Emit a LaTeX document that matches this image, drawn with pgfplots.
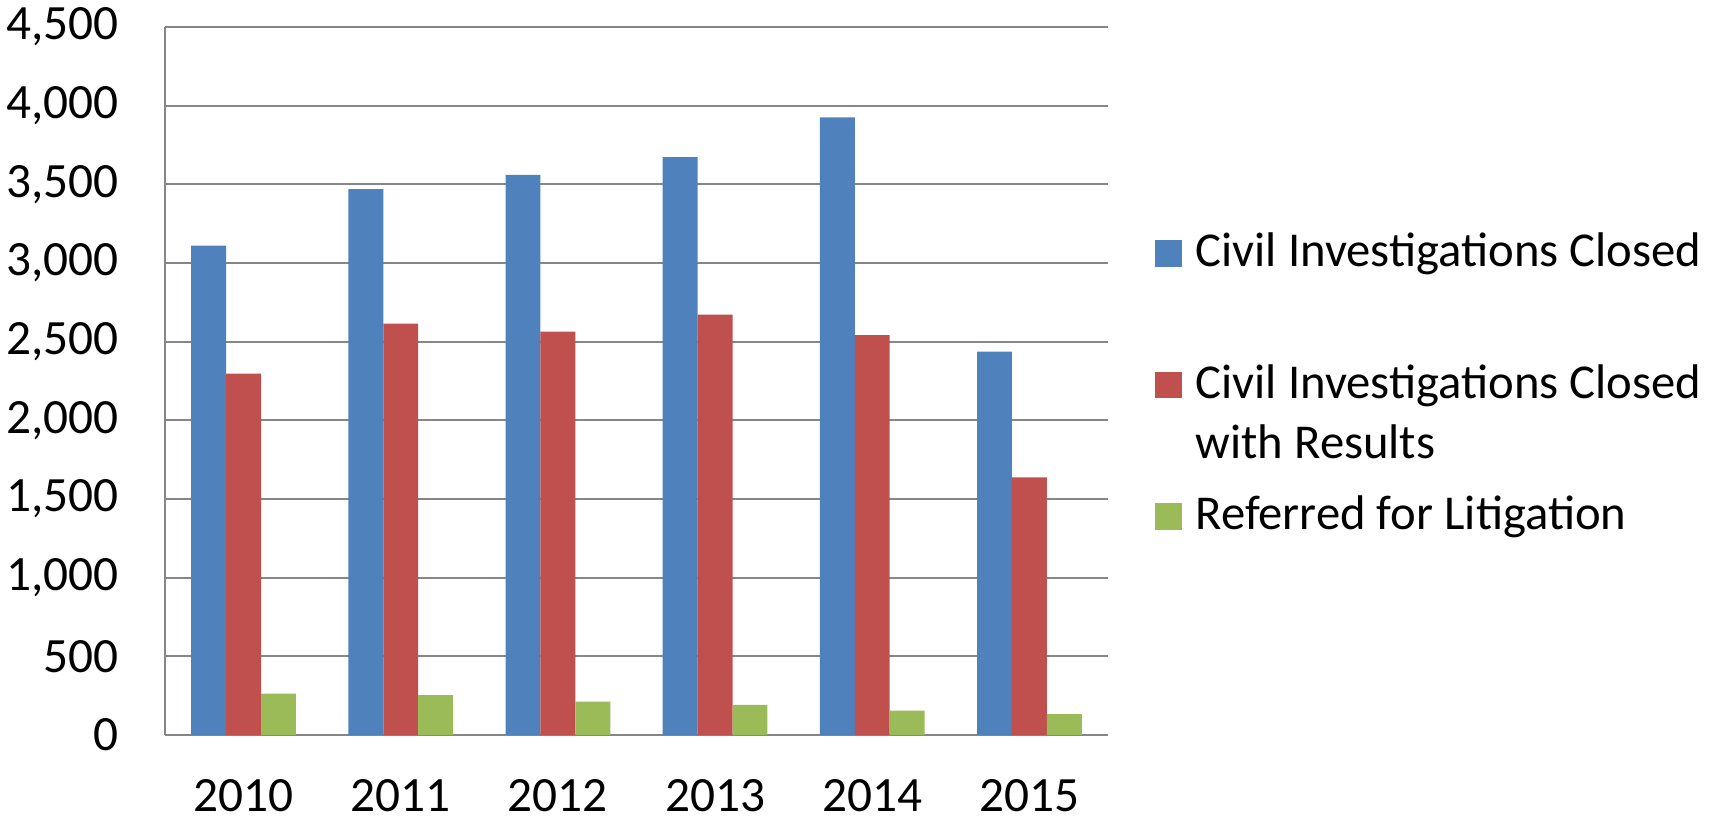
\documentclass[border=0pt]{standalone}
\usepackage{fontspec}
\setmainfont{Carlito}
\usepackage{pgfplots}
\pgfplotsset{compat=1.18}
\definecolor{cblue}{HTML}{4F81BD}
\definecolor{cred}{HTML}{C0504D}
\definecolor{cgreen}{HTML}{9BBB59}
\definecolor{gridgray}{HTML}{868686}
\begin{document}
\begin{tikzpicture}
\useasboundingbox (-49.5pt,-24.3pt) rectangle (465pt,220.5pt);
\begin{axis}[
  scale only axis, width=282.9pt, height=212.4pt,
  xmin=-0.5, xmax=5.5, ymin=0, ymax=4500,
  ytick={0,500,...,4500},
  xtick={0,1,2,3,4,5},
  xticklabels={2010,2011,2012,2013,2014,2015},
  axis x line*=bottom, axis y line*=left,
  axis line style={draw=gridgray, line width=0.6pt, -},
  ymajorgrids, grid style={draw=gridgray, line width=0.6pt},
  major tick length=0pt,
  tick label style={font=\fontsize{14.8}{17}\selectfont},
  /pgf/number format/assume math mode=true,
  /pgf/number format/1000 sep={,},
  yticklabel style={anchor=east, inner sep=0pt, xshift=-13.7pt},
  xticklabel style={anchor=north, inner sep=0pt, yshift=-13.2pt},
  ybar, bar width=0.2222,
  legend image code/.code={\fill[#1, draw=none] (0pt,0pt) rectangle (8pt,8pt);},
  legend cell align=left,
  legend style={draw=none, fill=none, at={(rel axis cs:1.0498,0.7086)}, anchor=north west,
    inner sep=0pt, outer sep=0pt, row sep=0pt, column sep=4.2pt,
    nodes={inner sep=0pt, outer sep=0pt, text height=10pt, text depth=29.5pt, anchor=base west,
      font=\fontsize{14.6}{18}\selectfont}},
]
\addplot[fill=cblue, draw=none, bar shift=-0.2222] coordinates {(0,3111) (1,3469) (2,3560) (3,3673) (4,3925) (5,2437)};
\addlegendentry{Civil Investigations Closed}
\addplot[fill=cred, draw=none, bar shift=0] coordinates {(0,2297) (1,2615) (2,2564) (3,2672) (4,2541) (5,1638)};
\addlegendentry{\parbox[t]{155pt}{Civil Investigations Closed\\with Results}}
\addplot[fill=cgreen, draw=none, bar shift=0.2222] coordinates {(0,263) (1,254) (2,212) (3,191) (4,155) (5,132)};
\addlegendentry{Referred for Litigation}
\end{axis}
\end{tikzpicture}
\end{document}
